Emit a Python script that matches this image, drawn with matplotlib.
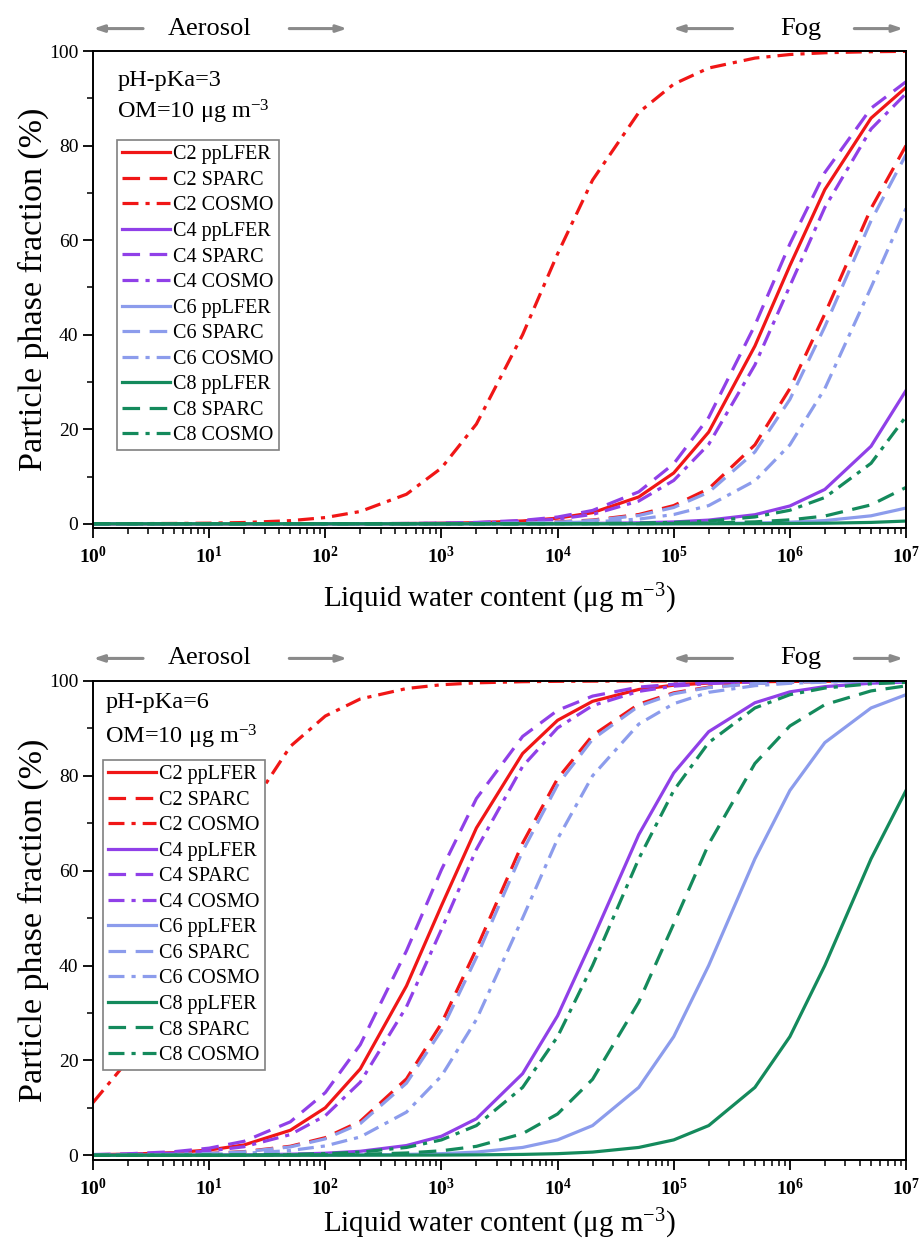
# encoding: utf-8

import numpy as np
import matplotlib

matplotlib.use('Agg')
import matplotlib.pyplot as plt
import matplotlib.ticker as ticker

plt.rcParams['font.family'] = ['Liberation Serif', 'DejaVu Serif']
plt.rcParams['mathtext.fontset'] = 'custom'
plt.rcParams['mathtext.rm'] = 'Liberation Serif'
plt.rcParams['mathtext.it'] = 'Liberation Serif:italic'
plt.rcParams['mathtext.bf'] = 'Liberation Serif:bold'
plt.rcParams['xtick.direction'] = 'out'
plt.rcParams['ytick.direction'] = 'out'
plt.rcParams['axes.linewidth'] = 1.4

# liquid water content (ug m-3)
lwc = [1, 2, 5, 1e1, 2e1, 5e1, 1e2, 2e2, 5e2, 1e3, 2e3, 5e3,
       1e4, 2e4, 5e4, 1e5, 2e5, 5e5, 1e6, 2e6, 5e6, 1e7]

# pH-pKa = 3
top_c2_pp = [0, 0, 0, 0, 0, 0.01, 0.01, 0.02, 0.06, 0.12, 0.24, 0.6, 1.19, 2.35, 5.68, 10.75, 19.4, 37.6, 54.6, 70.7, 85.8, 92.3]
top_c2_sp = [0, 0, 0, 0, 0, 0, 0, 0.01, 0.02, 0.04, 0.08, 0.2, 0.4, 0.79, 1.96, 3.85, 7.41, 16.7, 28.6, 44.4, 66.7, 80.0]
top_c2_co = [0.01, 0.03, 0.07, 0.13, 0.27, 0.66, 1.32, 2.6, 6.25, 11.8, 21.1, 40.0, 57.1, 72.7, 87.0, 93.0, 96.4, 98.5, 99.26, 99.63, 99.85, 99.93]
top_c4_pp = [0, 0, 0, 0, 0, 0, 0, 0, 0, 0, 0.01, 0.02, 0.04, 0.08, 0.2, 0.39, 0.78, 1.92, 3.77, 7.27, 16.4, 28.2]
top_c4_sp = [0, 0, 0, 0, 0, 0.01, 0.01, 0.03, 0.07, 0.14, 0.29, 0.72, 1.43, 2.82, 6.76, 12.7, 22.5, 42.0, 59.2, 74.3, 87.9, 93.5]
top_c4_co = [0, 0, 0, 0, 0, 0.01, 0.01, 0.02, 0.05, 0.1, 0.2, 0.5, 1.0, 1.98, 4.81, 9.17, 16.8, 33.6, 50.3, 66.9, 83.5, 91.0]
top_c6_pp = [0, 0, 0, 0, 0, 0, 0, 0, 0, 0, 0, 0, 0, 0.01, 0.02, 0.03, 0.07, 0.17, 0.34, 0.68, 1.69, 3.33]
top_c6_sp = [0, 0, 0, 0, 0, 0, 0, 0.01, 0.02, 0.04, 0.07, 0.18, 0.36, 0.71, 1.75, 3.45, 6.67, 15.2, 26.3, 41.7, 64.1, 78.1]
top_c6_co = [0, 0, 0, 0, 0, 0, 0, 0, 0.01, 0.02, 0.04, 0.1, 0.2, 0.4, 0.99, 1.96, 3.85, 9.09, 16.7, 28.6, 50.0, 66.7]
top_c8_pp = [0, 0, 0, 0, 0, 0, 0, 0, 0, 0, 0, 0, 0, 0, 0, 0.01, 0.01, 0.03, 0.06, 0.12, 0.29, 0.58]
top_c8_sp = [0, 0, 0, 0, 0, 0, 0, 0, 0, 0, 0, 0, 0.01, 0.02, 0.04, 0.08, 0.17, 0.41, 0.83, 1.64, 4.0, 7.69]
top_c8_co = [0, 0, 0, 0, 0, 0, 0, 0, 0, 0, 0.01, 0.01, 0.03, 0.06, 0.15, 0.29, 0.58, 1.45, 2.86, 5.56, 12.8, 22.7]

# pH-pKa = 6
bot_c2_pp = [0.11, 0.22, 0.55, 1.1, 2.17, 5.26, 10.0, 18.2, 35.7, 52.6, 69.0, 84.7, 91.7, 95.7, 98.2, 99.1, 99.55, 99.82, 99.91, 99.96, 99.98, 99.99]
bot_c2_sp = [0.04, 0.08, 0.19, 0.38, 0.76, 1.89, 3.7, 7.14, 16.1, 27.8, 43.5, 65.8, 79.4, 88.5, 95.1, 97.5, 98.7, 99.48, 99.74, 99.87, 99.95, 99.97]
bot_c2_co = [11.1, 20.0, 38.5, 55.6, 71.4, 86.2, 92.6, 96.2, 98.4, 99.2, 99.6, 99.84, 99.92, 99.96, 99.98, 99.99, 100, 100, 100, 100, 100, 100]
bot_c4_pp = [0, 0.01, 0.02, 0.04, 0.08, 0.21, 0.42, 0.83, 2.04, 4.0, 7.69, 17.2, 29.4, 45.5, 67.6, 80.6, 89.3, 95.4, 97.7, 98.8, 99.52, 99.76]
bot_c4_sp = [0.15, 0.3, 0.75, 1.49, 2.94, 7.04, 13.2, 23.3, 43.1, 60.2, 75.2, 88.3, 93.8, 96.8, 98.7, 99.3, 99.67, 99.87, 99.93, 99.97, 99.99, 99.99]
bot_c4_co = [0.09, 0.18, 0.45, 0.9, 1.79, 4.35, 8.33, 15.4, 31.3, 47.6, 64.5, 82.0, 90.1, 94.8, 97.8, 98.9, 99.45, 99.78, 99.89, 99.95, 99.98, 99.99]
bot_c6_pp = [0, 0, 0, 0, 0.01, 0.02, 0.03, 0.07, 0.17, 0.33, 0.66, 1.64, 3.23, 6.25, 14.3, 25.0, 40.0, 62.5, 76.9, 87.0, 94.3, 97.1]
bot_c6_sp = [0.04, 0.07, 0.18, 0.36, 0.71, 1.75, 3.45, 6.67, 15.2, 26.3, 41.7, 64.1, 78.1, 87.7, 94.7, 97.3, 98.6, 99.44, 99.72, 99.86, 99.94, 99.97]
bot_c6_co = [0.02, 0.04, 0.1, 0.2, 0.4, 0.99, 1.96, 3.85, 9.09, 16.7, 28.6, 50.0, 66.7, 80.0, 90.9, 95.2, 97.6, 99.0, 99.5, 99.75, 99.9, 99.95]
bot_c8_pp = [0, 0, 0, 0, 0, 0, 0, 0.01, 0.02, 0.03, 0.07, 0.17, 0.33, 0.66, 1.64, 3.23, 6.25, 14.3, 25.0, 40.0, 62.5, 76.9]
bot_c8_sp = [0, 0, 0, 0.01, 0.02, 0.05, 0.1, 0.19, 0.47, 0.94, 1.87, 4.55, 8.7, 16.0, 32.3, 48.8, 65.6, 82.6, 90.5, 95.0, 97.9, 98.96]
bot_c8_co = [0, 0.01, 0.02, 0.03, 0.07, 0.17, 0.33, 0.66, 1.64, 3.23, 6.25, 14.3, 25.0, 40.0, 62.5, 76.9, 87.0, 94.3, 97.1, 98.5, 99.4, 99.7]

chains = ['C2', 'C4', 'C6', 'C8']
models = ['ppLFER', 'SPARC', 'COSMO']
colors = {'C2': '#f01616', 'C4': '#9040e8', 'C6': '#8c9cec', 'C8': '#148a5c'}
styles = {'ppLFER': '-', 'SPARC': (0, (5.5, 3)), 'COSMO': (0, (5, 2.2, 1.3, 2.2))}

top_data = [top_c2_pp, top_c2_sp, top_c2_co, top_c4_pp, top_c4_sp, top_c4_co,
            top_c6_pp, top_c6_sp, top_c6_co, top_c8_pp, top_c8_sp, top_c8_co]
bot_data = [bot_c2_pp, bot_c2_sp, bot_c2_co, bot_c4_pp, bot_c4_sp, bot_c4_co,
            bot_c6_pp, bot_c6_sp, bot_c6_co, bot_c8_pp, bot_c8_sp, bot_c8_co]


def draw_panel(ax, data, phka, ybot, xlab_y, leg_x, leg_y, txt_x, txt_y1, txt_y2):
    i = 0
    for c in chains:
        for m in models:
            ax.plot(lwc, data[i], color=colors[c], linestyle=styles[m],
                    lw=2.3, label=c + ' ' + m)
            i += 1

    ax.set_xscale('log')
    ax.set_xlim(1, 1e7)
    ax.set_ylim(ybot, 100)
    ax.yaxis.set_major_locator(ticker.MultipleLocator(20))
    ax.yaxis.set_minor_locator(ticker.MultipleLocator(10))
    decades = 10.0 ** np.arange(0, 8)
    minors = [d * s for d in decades[:-1] for s in range(2, 10)]
    ax.xaxis.set_major_locator(ticker.FixedLocator(decades))
    ax.xaxis.set_minor_locator(ticker.FixedLocator(minors))
    ax.xaxis.set_major_formatter(ticker.FuncFormatter(
        lambda v, p: r'$\mathbf{10^{%d}}$' % int(round(np.log10(v)))))
    ax.xaxis.set_minor_formatter(ticker.NullFormatter())
    ax.tick_params(which='major', length=7, width=1.3, labelsize=14)
    ax.tick_params(which='minor', length=4, width=1.1)
    ax.tick_params(axis='x', which='major', pad=6, labelsize=14)

    ax.set_ylabel('Particle phase fraction (%)', fontsize=24.5)
    ax.yaxis.set_label_coords(-0.054, 0.5)
    ax.set_xlabel(r'Liquid water content ($\mathrm{\mu}$g m$^{-3}$)', fontsize=21)
    ax.xaxis.set_label_coords(0.5, xlab_y)

    ax.text(txt_x, txt_y1, 'pH-pKa=%d' % phka, transform=ax.transAxes,
            fontsize=17.5, va='center', ha='left')
    ax.text(txt_x, txt_y2, r'OM=10 $\mathrm{\mu}$g m$^{-3}$', transform=ax.transAxes,
            fontsize=17.5, va='center', ha='left')

    leg = ax.legend(loc='upper left', bbox_to_anchor=(leg_x, leg_y), fontsize=14.5,
                    handlelength=2.4, handletextpad=0.15, labelspacing=0.32,
                    borderpad=0.25, borderaxespad=0, fancybox=False,
                    edgecolor='#808080', framealpha=1)
    leg.get_frame().set_linewidth(1.2)

    # Aerosol / Fog arrows above the frame
    arrow = dict(arrowstyle='-|>,head_length=0.6,head_width=0.2', color='#8a8a8a', lw=2.2)
    yy = 1.047
    for x0, x1 in [(0.065, -0.003), (0.238, 0.316), (0.79, 0.71), (0.933, 1.0)]:
        ax.annotate('', xy=(x1, yy), xytext=(x0, yy), xycoords='axes fraction',
                    arrowprops=arrow, annotation_clip=False)
    ax.text(0.143, yy, 'Aerosol', transform=ax.transAxes, fontsize=19,
            ha='center', va='center')
    ax.text(0.87, yy, 'Fog', transform=ax.transAxes, fontsize=19,
            ha='center', va='center')


def main():
    fig = plt.figure(figsize=(9.2, 12.41), dpi=100)
    ax1 = fig.add_axes([0.1011, 0.5745, 0.8837, 0.3844])
    ax2 = fig.add_axes([0.1011, 0.0653, 0.8837, 0.386])

    draw_panel(ax1, top_data, 3, -0.9, -0.113, 0.0295, 0.813, 0.03, 0.939, 0.872)
    draw_panel(ax2, bot_data, 6, -1.0, -0.098, 0.0123, 0.835, 0.015, 0.954, 0.883)

    plt.savefig('out.png', dpi=100)


if __name__ == '__main__':
    main()
